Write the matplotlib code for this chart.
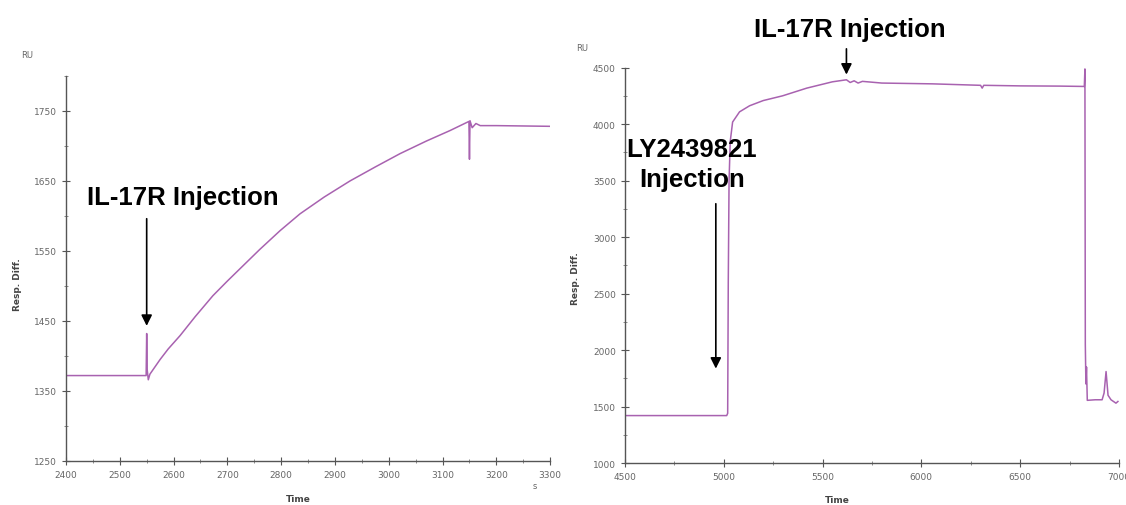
import matplotlib
matplotlib.use("Agg")
import matplotlib.pyplot as plt
from matplotlib.ticker import MultipleLocator

# left sensorgram: IL-17R injection only
left_time = [2400, 2549, 2550, 2551, 2553, 2556, 2575, 2590, 2612, 2640, 2673,
             2700, 2736, 2760, 2798, 2835, 2880, 2928, 2975, 3021, 3070, 3114,
             3149, 3150, 3151, 3155, 3162, 3170, 3200, 3300]
left_resp = [1372, 1372, 1432, 1380, 1366, 1374, 1395, 1410, 1429, 1456, 1486,
             1507, 1534, 1552, 1579, 1603, 1627, 1650, 1670, 1689, 1707, 1722,
             1735, 1681, 1736, 1726, 1732, 1729, 1729, 1728]

# right sensorgram: LY2439821 then IL-17R
right_time = [4500, 5015, 5020, 5023, 5027, 5033, 5045, 5080, 5131, 5200, 5298,
              5420, 5550, 5621, 5640, 5660, 5680, 5702, 5800, 6056, 6300, 6308,
              6316, 6500, 6700, 6825, 6828, 6830, 6833, 6836, 6840, 6880, 6915,
              6925, 6935, 6945, 6960, 6985, 6995]
right_resp = [1420, 1420, 1440, 2600, 3500, 3850, 4020, 4110, 4164, 4210, 4252,
              4320, 4376, 4394, 4370, 4385, 4365, 4380, 4365, 4358, 4345, 4320,
              4345, 4340, 4338, 4335, 4490, 2050, 1700, 1850, 1555, 1560, 1560,
              1620, 1810, 1600, 1560, 1530, 1545]

line_color = "#a862b0"
label_font = ["Liberation Sans Narrow", "Liberation Sans", "DejaVu Sans"]
arrow_props = dict(arrowstyle="-|>", color="black", lw=1.2,
                   mutation_scale=16, shrinkA=0, shrinkB=0)

fig = plt.figure(figsize=(11.26, 5.06), dpi=100)
ax1 = fig.add_axes([0.0586, 0.087, 0.43, 0.761])
ax2 = fig.add_axes([0.555, 0.083, 0.4387, 0.781])


def style_axis(ax):
    for side in ["top", "right"]:
        ax.spines[side].set_visible(False)
    for side in ["left", "bottom"]:
        ax.spines[side].set_color("#555555")
        ax.spines[side].set_linewidth(1.0)
    ax.tick_params(which="major", direction="inout", length=6, width=0.8,
                   colors="#555555", labelsize=6.5, labelcolor="#666666")
    ax.tick_params(which="minor", direction="inout", length=3, width=0.6,
                   colors="#777777")
    ax.set_ylabel("Resp. Diff.", fontsize=6.5, fontweight="bold", color="#444444")
    ax.set_xlabel("Time", fontsize=6.5, fontweight="bold", color="#444444")


ax1.plot(left_time, left_resp, color=line_color, lw=1.1)
ax1.set_xlim(2400, 3300)
ax1.set_ylim(1250, 1800)
ax1.set_xticks(range(2400, 3301, 100))
ax1.set_yticks(range(1250, 1751, 100))
ax1.xaxis.set_minor_locator(MultipleLocator(50))
ax1.yaxis.set_minor_locator(MultipleLocator(50))
style_axis(ax1)
ax1.yaxis.set_label_coords(-0.09, 0.46)
ax1.xaxis.set_label_coords(0.48, -0.085)
ax1.annotate("", xy=(2550, 1443), xytext=(2550, 1596), arrowprops=arrow_props)
ax1.text(2617, 1627, "IL-17R Injection", ha="center", va="center",
         fontsize=18.5, fontweight="bold", family=label_font)
fig.text(0.475, 0.034, "s", fontsize=6, color="#666666", ha="center")
fig.text(0.024, 0.885, "RU", fontsize=6, color="#666666", ha="center")

ax2.plot(right_time, right_resp, color=line_color, lw=1.1)
ax2.set_xlim(4500, 7000)
ax2.set_ylim(1000, 4500)
ax2.set_xticks(range(4500, 7001, 500))
ax2.set_yticks(range(1000, 4501, 500))
ax2.xaxis.set_minor_locator(MultipleLocator(250))
ax2.yaxis.set_minor_locator(MultipleLocator(250))
style_axis(ax2)
ax2.yaxis.set_label_coords(-0.09, 0.47)
ax2.xaxis.set_label_coords(0.43, -0.08)
ax2.annotate("", xy=(5621, 4440), xytext=(5621, 4668),
             annotation_clip=False, arrowprops=arrow_props)
ax2.text(5636, 4845, "IL-17R Injection", ha="center", va="center",
         fontsize=18.5, fontweight="bold", family=label_font, clip_on=False)
ax2.annotate("", xy=(4960, 1836), xytext=(4960, 3296), arrowprops=arrow_props)
ax2.text(4838, 3650, "LY2439821\nInjection", ha="center", va="center",
         fontsize=18.5, fontweight="bold", family=label_font, linespacing=1.3)
fig.text(0.517, 0.9, "RU", fontsize=6, color="#666666", ha="center")

fig.savefig("out.png", dpi=100, facecolor="white")
